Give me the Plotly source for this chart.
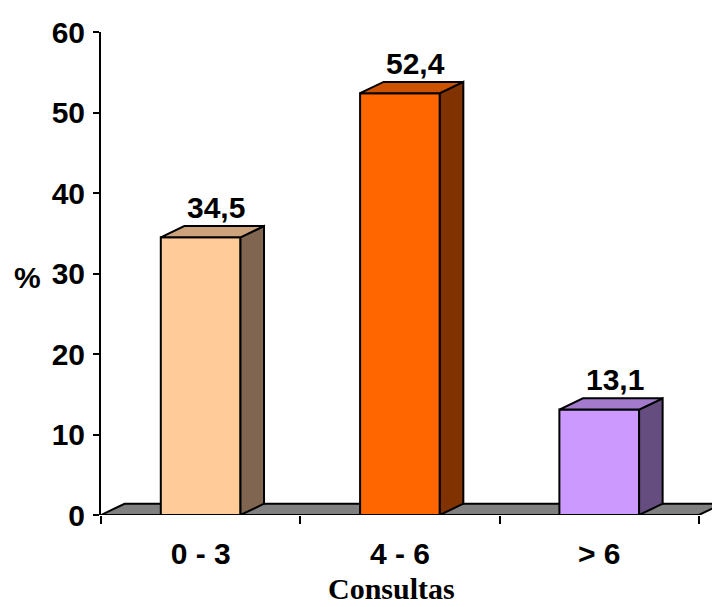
import plotly.graph_objects as go

# Distribution of visits (%)
categories = ["0 - 3", "4 - 6", "> 6"]
values = [34.5, 52.4, 13.1]
front_colors = ["#FFCC99", "#FF6600", "#CC99FF"]
top_colors = ["#CCA37A", "#CC5200", "#A37ACC"]
side_colors = ["#806650", "#803300", "#664D80"]
y_ticks = [0, 10, 20, 30, 40, 50, 60]

# Pseudo-3D geometry (axis units)
BAR_W = 0.4
DEPTH_X = 0.118
DEPTH_Y = 1.4
N = len(categories)

SANS = "Liberation Sans, Arial, sans-serif"
SERIF = "Liberation Serif, Times New Roman, serif"
FS = 30

fig = go.Figure()


def poly(xs, ys, fill):
    fig.add_trace(go.Scatter(
        x=xs + [xs[0]], y=ys + [ys[0]], mode="lines", fill="toself",
        fillcolor=fill, line=dict(color="black", width=2),
        hoverinfo="skip", showlegend=False))


# Floor
poly([0, N, N + DEPTH_X, DEPTH_X], [0, 0, DEPTH_Y, DEPTH_Y], "#808080")

# Bars: front, side, top faces
for i, v in enumerate(values):
    c = i + 0.5
    x0, x1 = c - BAR_W / 2, c + BAR_W / 2
    poly([x0, x1, x1, x0], [0, 0, v, v], front_colors[i])
    poly([x1, x1 + DEPTH_X, x1 + DEPTH_X, x1], [0, DEPTH_Y, v + DEPTH_Y, v], side_colors[i])
    poly([x0, x1, x1 + DEPTH_X, x0 + DEPTH_X], [v, v, v + DEPTH_Y, v + DEPTH_Y], top_colors[i])
    fig.add_annotation(
        x=c + DEPTH_X / 2 + 0.02, y=v + DEPTH_Y, xref="x", yref="y",
        text=f"{v:.1f}".replace(".", ","), showarrow=False,
        xanchor="center", yanchor="bottom", yshift=0,
        font=dict(family=SANS, size=FS, color="black", weight="bold"))

fig.add_annotation(
    x=1.46, y=-0.153, xref="x", yref="paper", text="<b>Consultas</b>",
    showarrow=False, xanchor="center", yanchor="middle",
    font=dict(family=SERIF, size=FS, color="black"))
fig.add_annotation(
    x=-0.121, y=29.5, xref="paper", yref="y", text="<b>%</b>",
    showarrow=False, xanchor="center", yanchor="middle",
    font=dict(family=SANS, size=FS, color="black"))

fig.update_layout(
    width=712, height=607,
    margin=dict(l=101, r=0, t=32, b=92),
    plot_bgcolor="white", paper_bgcolor="white",
    showlegend=False,
    xaxis=dict(
        range=[0, 611 / 199.3], tickmode="array",
        tickvals=[i + 0.5 for i in range(N)], ticktext=categories,
        ticks="", showline=False, showgrid=False, zeroline=False,
        ticklabelstandoff=18,
        tickfont=dict(family=SANS, size=FS, color="black", weight="bold"),
        minor=dict(tickmode="array", tickvals=list(range(N + 1)),
                   ticks="outside", ticklen=8, tickwidth=2,
                   tickcolor="black", showgrid=False),
        fixedrange=True),
    yaxis=dict(
        range=[0, 60], tickmode="array", tickvals=y_ticks,
        showline=True, linecolor="black", linewidth=2,
        ticks="outside", ticklen=6, tickwidth=2, tickcolor="black",
        showgrid=False, zeroline=False, ticklabelstandoff=2,
        tickfont=dict(family=SANS, size=FS, color="black", weight="bold"),
        fixedrange=True),
)

fig.write_html("out.html")
